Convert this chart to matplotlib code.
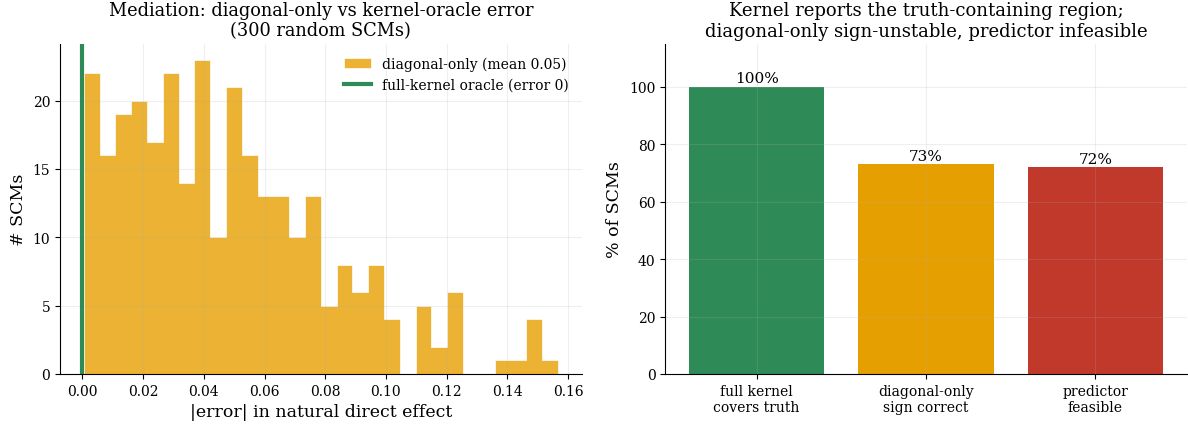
import matplotlib
matplotlib.use("Agg")
import matplotlib.pyplot as plt
import numpy as np

plt.rcParams["font.family"] = "DejaVu Serif"

# histogram of |error| for the diagonal-only estimator, 30 bins
bin_lo, bin_hi, n_bins = 0.0004, 0.1567, 30
counts = [22, 16, 19, 20, 17, 22, 14, 23, 10, 21,
          16, 13, 13, 10, 13, 5, 8, 6, 8, 4,
          0, 5, 2, 6, 0, 0, 1, 1, 4, 1]
diag_mean = 0.05

# coverage / sign / feasibility rates
bar_labels = ["full kernel\ncovers truth", "diagonal-only\nsign correct", "predictor\nfeasible"]
bar_pct = [100, 73, 72]
bar_colors = ["#2e8b57", "#e69f00", "#c0392b"]

edges = np.linspace(bin_lo, bin_hi, n_bins + 1)
centers = 0.5 * (edges[:-1] + edges[1:])

fig, (ax1, ax2) = plt.subplots(1, 2, figsize=(11.88, 4.27), dpi=100)
fig.subplots_adjust(left=0.0505, right=0.999, bottom=0.122, top=0.895, wspace=0.16)

ax1.hist(centers, bins=edges, weights=counts, histtype="stepfilled",
         color="#e69f00", alpha=0.8, edgecolor="white", linewidth=0.6,
         label=f"diagonal-only (mean {diag_mean:.2f})")
ax1.axvline(0, color="#2e8b57", lw=3, label="full-kernel oracle (error 0)")
ax1.set_xlabel("|error| in natural direct effect", fontsize=12.5)
ax1.set_ylabel("# SCMs", fontsize=12.5)
ax1.set_title("Mediation: diagonal-only vs kernel-oracle error\n(300 random SCMs)", fontsize=12.8)
ax1.legend(frameon=False, fontsize=10)
ax1.grid(alpha=0.2)
ax1.tick_params(labelsize=10)

x = np.arange(len(bar_labels))
bars = ax2.bar(x, bar_pct, color=bar_colors, width=0.8)
for b, v in zip(bars, bar_pct):
    ax2.text(b.get_x() + b.get_width() / 2, v + 0.5, f"{v}%", ha="center", va="bottom", fontsize=11)
ax2.set_xticks(x)
ax2.set_xticklabels(bar_labels, fontsize=10)
ax2.set_ylim(0, 115)
ax2.set_ylabel("% of SCMs", fontsize=12.5)
ax2.set_title("Kernel reports the truth-containing region;\ndiagonal-only sign-unstable, predictor infeasible", fontsize=13)
ax2.grid(alpha=0.2)
ax2.tick_params(labelsize=10)

for ax in (ax1, ax2):
    ax.spines["top"].set_visible(False)
    ax.spines["right"].set_visible(False)

fig.savefig("out.png")
